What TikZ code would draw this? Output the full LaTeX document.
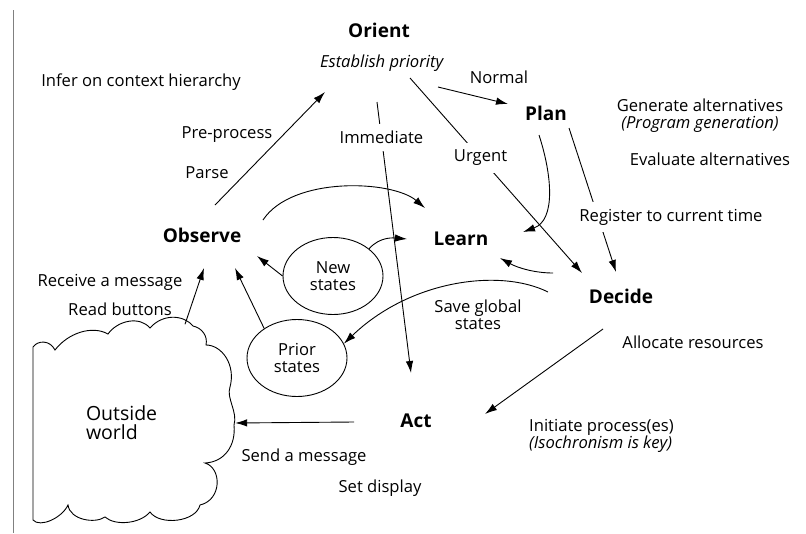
\documentclass[tikz,border=0pt]{standalone}
\usepackage{fontspec}
\setmainfont{Open Sans}
\usetikzlibrary{arrows.meta,positioning,shapes.geometric}

\begin{document}
\begin{tikzpicture}[x=1pt,y=-1pt,
    txt/.style={inner sep=2pt,font=\fontsize{16.6}{17}\selectfont},
    stage/.style={inner sep=2pt,font=\fontsize{19}{21}\selectfont\bfseries},
    statebox/.style={draw,ellipse,line width=0.9pt,minimum width=100pt,minimum height=77pt,inner sep=0pt,align=center,font=\fontsize{16.6}{17}\selectfont},
    arr/.style={-{Latex[length=12pt,width=7.5pt]},line width=0.9pt},
    gap/.style={txt,fill=white,inner ysep=7pt}]
    \useasboundingbox (0,0) rectangle (806,533);
    \draw[gray,line width=0.6pt] (13,10) -- (13,533);
    \node[stage,anchor=base] (orient) at (379,37) {Orient};
    \node[txt,anchor=base] (prio) at (382,67) {\textit{Establish priority}};
    \node[txt,anchor=base] (infer) at (141,86) {Infer on context hierarchy};
    \node[txt,anchor=base] (preproc) at (227,138) {Pre-process};
    \node[txt,anchor=base] (parse) at (207,178) {Parse};
    \node[stage,anchor=base] (observe) at (202,242) {Observe};
    \node[stage,anchor=base] (plan) at (546,120) {Plan};
    \node[txt,anchor=base] (normal) at (499,83) {Normal};
    \node[txt,align=center] (generate) at (700,116) {Generate alternatives\\\textit{(Program generation)}};
    \node[txt,anchor=base] (evaluate) at (710,165) {Evaluate alternatives};
    \node[stage,anchor=base] (learn) at (461,245) {Learn};
    \node[statebox] (newst) at (333,276) {New\\states};
    \node[statebox] (priorst) at (297,358) {Prior\\states};
    \node[txt,align=center] (saveglob) at (478,315) {Save global\\states};
    \node[stage,anchor=base] (decide) at (621,303) {Decide};
    \node[txt,anchor=base] (alloc) at (693,348) {Allocate resources};
    \node[stage,anchor=base] (act) at (416,427) {Act};
    \node[txt,anchor=west,align=left] (initiate) at (527,436) {Initiate process(es)\\\textit{(Isochronism is key)}};
    \node[txt,anchor=base] (send) at (304,461) {Send a message};
    \node[txt,anchor=base] (setdisp) at (380,492) {Set display};
    \node[txt,anchor=base] (receive) at (110,286) {Receive a message};
    \node[txt,anchor=base] (read) at (120,315) {Read buttons};
    \node[txt,font=\fontsize{19.5}{19}\selectfont,minimum width=202pt,minimum height=197pt,text width=96pt,align=left] (world) at (134,423) {Outside\\world};
    \draw[line width=0.9pt] (33,347) .. controls (38,340) and (50,340) .. (55,350)
        .. controls (68,333) and (92,325) .. (108,334)
        .. controls (118,320) and (140,316) .. (150,328)
        .. controls (162,314) and (183,314) .. (193,326)
        .. controls (202,328) and (208,336) .. (206,345)
        .. controls (222,345) and (236,365) .. (230,387)
        .. controls (226,398) and (238,412) .. (234,425)
        .. controls (236,445) and (225,462) .. (205,463)
        .. controls (222,468) and (222,500) .. (200,505)
        .. controls (196,522) and (160,526) .. (150,512)
        .. controls (140,524) and (115,526) .. (105,517)
        .. controls (95,524) and (70,520) .. (68,505)
        .. controls (62,518) and (40,528) .. (33,520) -- cycle;
    \draw[arr] ([xshift=13pt,yshift=37pt]observe.base) -- ([xshift=-57pt,yshift=-25pt]prio.base);
    \draw[arr] ([xshift=-5pt,yshift=-35pt]prio.base) -- node[gap,pos=0.13] (immed) {Immediate} ([xshift=-5pt,yshift=54pt]act.base);
    \draw[arr] ([xshift=56pt,yshift=-20pt]prio.base) -- ([xshift=-38pt,yshift=16pt]plan.base);
    \draw[arr] ([xshift=28pt,yshift=-11pt]prio.base) -- node[gap,pos=0.41] (urgent) {Urgent} ([xshift=-39pt,yshift=30pt]decide.base);
    \draw[arr] ([xshift=-7pt,yshift=-15pt]plan.base) .. controls (552,175) and (556,220) .. ([xshift=62pt,yshift=13pt]learn.base);
    \draw[arr] ([xshift=23pt,yshift=-8pt]plan.base) -- ([xshift=-5pt,yshift=31pt]decide.base);
    \node[gap,anchor=base] (register) at (671,221) {Register to current time};
    \draw[arr] ([xshift=61pt,yshift=22pt]observe.base) .. controls (292,176) and (392,180) .. ([xshift=-36pt,yshift=37pt]learn.base);
    \draw[arr] (newst.west) -- ([xshift=55pt,yshift=-14pt]observe.base);
    \draw[arr] (newst.37) .. controls (380,236) and (395,238) .. ([xshift=-54pt,yshift=6pt]learn.base);
    \draw[arr] ([xshift=-68pt,yshift=30pt]decide.base) .. controls (535,273) and (518,268) .. ([xshift=39pt,yshift=-13pt]learn.base);
    \draw[arr] ([xshift=-73pt,yshift=11pt]decide.base) .. controls (500,268) and (410,280) .. (priorst.17);
    \draw[arr] ([xshift=51pt]world.north) -- ([xshift=2pt,yshift=-26pt]observe.base);
    \draw[arr] (priorst.138) -- ([xshift=33pt,yshift=-26pt]observe.base);
    \draw[arr] ([xshift=-18pt,yshift=-26pt]decide.base) -- ([xshift=69pt,yshift=13pt]act.base);
    \draw[arr] ([xshift=-62pt,yshift=5pt]act.base) -- (world.east);
\end{tikzpicture}
\end{document}
